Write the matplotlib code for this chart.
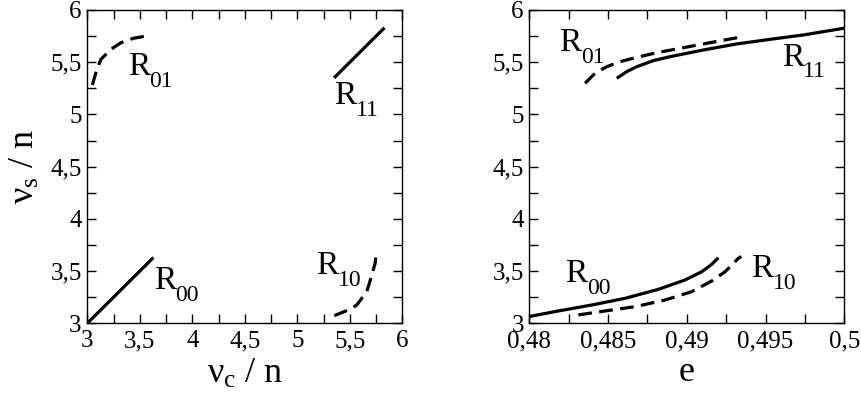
import numpy as np
import matplotlib
matplotlib.use("Agg")
import matplotlib.pyplot as plt
from matplotlib.ticker import MultipleLocator, FixedLocator, FixedFormatter

plt.rcParams['font.family'] = ['Liberation Serif', 'DejaVu Serif']
plt.rcParams['mathtext.fontset'] = 'custom'
plt.rcParams['mathtext.rm'] = 'Liberation Serif'
plt.rcParams['mathtext.it'] = 'Liberation Serif:italic'

# ---- left panel: nu_s/n vs nu_c/n ----
r00_c = [3.0, 3.63]
r00_s = [3.0, 3.63]
r11_c = [5.35, 5.83]
r11_s = [5.35, 5.83]
r01_c = [3.048, 3.089, 3.130, 3.226, 3.321, 3.438, 3.566]
r01_s = [5.282, 5.425, 5.528, 5.624, 5.687, 5.729, 5.751]
r10_c = [5.352, 5.502, 5.566, 5.661, 5.686, 5.709, 5.741, 5.747]
r10_s = [3.073, 3.134, 3.175, 3.303, 3.383, 3.462, 3.575, 3.638]

# ---- right panel: nu/n vs e ----
r11_e = [0.48555, 0.48618, 0.48682, 0.48787, 0.48893, 0.49105, 0.49317,
         0.49528, 0.4974, 0.5]
r11_v = [5.346, 5.409, 5.457, 5.515, 5.553, 5.617, 5.675, 5.719, 5.761, 5.826]
r01_e = [0.48354, 0.48417, 0.48491, 0.48576, 0.48682, 0.48809, 0.48957,
         0.49126, 0.49345]
r01_v = [5.298, 5.394, 5.457, 5.505, 5.547, 5.591, 5.633, 5.681, 5.742]
r00_e = [0.48, 0.48184, 0.48396, 0.48608, 0.48819, 0.48989, 0.49095,
         0.49158, 0.49200]
r00_v = [3.065, 3.118, 3.175, 3.239, 3.325, 3.415, 3.494, 3.565, 3.628]
r10_e = [0.48311, 0.48481, 0.48671, 0.48862, 0.49031, 0.49158, 0.49243,
         0.49327, 0.49345]
r10_v = [3.08, 3.118, 3.159, 3.223, 3.303, 3.405, 3.494, 3.622, 3.64]

nu_ticks = [3, 3.5, 4, 4.5, 5, 5.5, 6]
nu_labels = ['3', '3,5', '4', '4,5', '5', '5,5', '6']
e_ticks = [0.48, 0.485, 0.49, 0.495, 0.5]
e_labels = ['0,48', '0,485', '0,49', '0,495', '0,5']

# label name, x, y for each panel
left_labels = [('00', 3.635, 3.331), ('01', 3.385, 5.378),
               ('10', 5.178, 3.472), ('11', 5.353, 5.097)]
right_labels = [('00', 0.48227, 3.398), ('01', 0.4819, 5.607),
                ('10', 0.49408, 3.44), ('11', 0.49602, 5.467)]

fig = plt.figure(figsize=(8.61, 4.03), dpi=100)
ax1 = fig.add_axes([0.1014, 0.1978, 0.3659, 0.7774])
ax2 = fig.add_axes([0.6148, 0.1978, 0.3659, 0.7774])

lw = 2.3
dash = (4.3, 2.3)

ax1.plot(r00_c, r00_s, color='black', lw=lw, solid_capstyle='butt')
ax1.plot(r11_c, r11_s, color='black', lw=lw, solid_capstyle='butt')
ax1.plot(r01_c, r01_s, color='black', lw=lw, dashes=dash)
ax1.plot(r10_c, r10_s, color='black', lw=lw, dashes=dash)

ax2.plot(r11_e, r11_v, color='black', lw=lw, solid_capstyle='butt')
ax2.plot(r00_e, r00_v, color='black', lw=lw, solid_capstyle='butt')
ax2.plot(r01_e, r01_v, color='black', lw=lw, dashes=dash)
ax2.plot(r10_e, r10_v, color='black', lw=lw, dashes=dash)


def region_label(ax, name, x, y):
    # big R with a lowered subscript, like the original
    ax.text(x, y, 'R', fontsize=24, va='baseline', ha='left')
    ax.annotate(name, (x, y), xytext=(15.5, -8.5), textcoords='offset points',
                fontsize=17, va='baseline', ha='left')


for name, x, y in left_labels:
    region_label(ax1, name, x, y)
for name, x, y in right_labels:
    region_label(ax2, name, x, y)

for ax in (ax1, ax2):
    ax.set_ylim(3, 6)
    ax.yaxis.set_major_locator(FixedLocator(nu_ticks))
    ax.yaxis.set_major_formatter(FixedFormatter(nu_labels))
    ax.yaxis.set_minor_locator(MultipleLocator(0.25))
    ax.tick_params(which='both', direction='in', top=True, right=True,
                   length=6.5, width=1, labelsize=18)
    ax.tick_params(axis='x', pad=5)
    ax.tick_params(axis='y', pad=4)
    for sp in ax.spines.values():
        sp.set_linewidth(1)

ax1.set_xlim(3, 6)
ax1.xaxis.set_major_locator(FixedLocator(nu_ticks))
ax1.xaxis.set_major_formatter(FixedFormatter(nu_labels))
ax1.xaxis.set_minor_locator(MultipleLocator(0.25))

ax2.set_xlim(0.48, 0.5)
ax2.xaxis.set_major_locator(FixedLocator(e_ticks))
ax2.xaxis.set_major_formatter(FixedFormatter(e_labels))
ax2.xaxis.set_minor_locator(MultipleLocator(0.0025))

ax1.set_xlabel('ν$_{\\mathrm{c}}$ / n', fontsize=26, labelpad=4)
ax1.set_ylabel('ν$_{\\mathrm{s}}$ / n', fontsize=26, labelpad=6)
ax2.set_xlabel('e', fontsize=26, labelpad=3)

fig.savefig('out.png', dpi=100)
